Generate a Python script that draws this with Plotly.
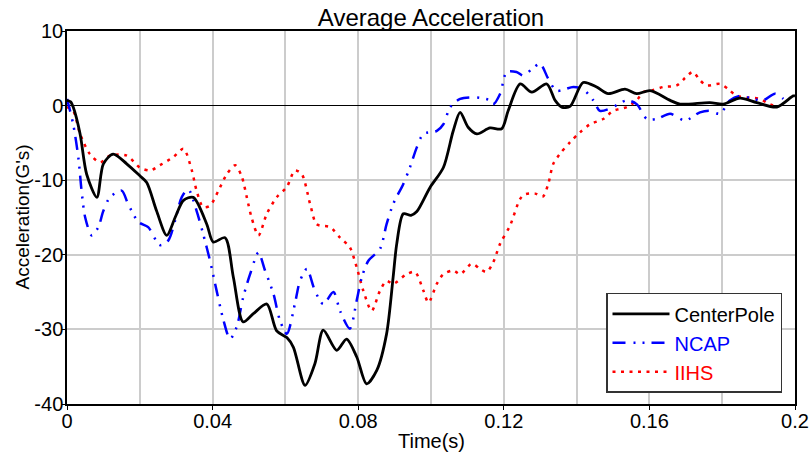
import plotly.graph_objects as go

# ---- data ----
cp_t = [0, 0.001, 0.0017, 0.0036, 0.0054, 0.0082, 0.01, 0.0127, 0.0164, 0.020, 0.0219, 0.0246,
        0.0274, 0.0297, 0.032, 0.0347, 0.0384, 0.0402, 0.0434, 0.0457, 0.0484, 0.0512, 0.0549,
        0.0576, 0.0604, 0.0622, 0.0654, 0.0681, 0.0704, 0.0741, 0.0768, 0.0796, 0.0823, 0.0851,
        0.0878, 0.0896, 0.0906, 0.0924, 0.0945, 0.0961, 0.0997, 0.1034, 0.1061, 0.108, 0.1102,
        0.1126, 0.1162, 0.1194, 0.1212, 0.1245, 0.1277, 0.1318, 0.1341, 0.1359, 0.1382, 0.1418,
        0.1455, 0.1487, 0.1533, 0.1565, 0.1602, 0.1657, 0.1684, 0.1766, 0.1803, 0.1849, 0.1895,
        0.195, 0.1995, 0.2]
cp_v = [0.7, 0.5, -0.2, -3.8, -9.2, -12.3, -7.8, -6.5, -7.8, -9.4, -10.3, -14.1,
        -17.4, -15.0, -12.7, -12.3, -15.9, -18.3, -17.7, -23.0, -29.0, -27.9, -26.6,
        -30.2, -31.1, -32.4, -37.5, -34.6, -30.1, -32.8, -31.3, -33.7, -37.3, -35.5,
        -30.6, -23.0, -18.5, -14.5, -14.7, -14.2, -11.0, -8.3, -3.4, -0.9, -2.9,
        -3.8, -3.0, -3.1, -0.7, 2.9, 1.8, 2.9, 0.7, -0.2, -0.1, 3.1,
        2.5, 1.6, 2.2, 1.6, 2.0, 0.7, 0.2, 0.4, 0.2, 1.0, 0.4,
        -0.2, 1.3, 1.3]

ncap_t = [0, 0.0017, 0.0031, 0.004, 0.005, 0.0068, 0.0086, 0.01, 0.0118, 0.015, 0.0168, 0.0196,
          0.0223, 0.0255, 0.0278, 0.0297, 0.0315, 0.0333, 0.0356, 0.0374, 0.0393, 0.0411, 0.043,
          0.0448, 0.0466, 0.0484, 0.0503, 0.0526, 0.0544, 0.0567, 0.0585, 0.0604, 0.0626, 0.064,
          0.0659, 0.0681, 0.0704, 0.0732, 0.075, 0.0777, 0.0796, 0.081, 0.0828, 0.086, 0.0878,
          0.0896, 0.0924, 0.0942, 0.0961, 0.0979, 0.1016, 0.1034, 0.1053, 0.108, 0.1125, 0.1162,
          0.1171, 0.119, 0.1208, 0.1235, 0.1254, 0.1277, 0.13, 0.1322, 0.1345, 0.1391, 0.1418,
          0.1446, 0.1464, 0.1492, 0.1538, 0.1565, 0.1593, 0.162, 0.1657, 0.1698, 0.1739, 0.1766,
          0.1794, 0.1821, 0.1849, 0.1885, 0.1913, 0.1945, 0.1968]
ncap_v = [0.9, -2.5, -6.9, -11.4, -15.0, -17.4, -16.3, -14.1, -12.3, -11.4, -13.2, -15.6,
          -16.3, -18.7, -18.1, -15.4, -12.3, -11.2, -14.1, -17.2, -20.8, -24.8, -28.8,
          -31.3, -29.7, -25.7, -22.6, -19.7, -22.1, -25.2, -28.8, -30.6, -26.6, -23.5,
          -21.9, -24.8, -26.6, -25.0, -27.5, -29.9, -26.1, -23.0, -20.8, -19.2, -15.9,
          -13.2, -10.5, -8.3, -5.6, -3.8, -3.4, -2.5, -0.2, 0.9, 1.1, 0.7,
          0.2, 1.6, 4.5, 4.5, 4.0, 4.9, 5.6, 3.6, 2.0, 2.5, 2.2,
          0.7, -0.7, -0.4, 0.7, 0.2, -1.8, -1.8, -1.1, -2.0, -0.9, -0.7,
          -1.1, 0.7, 1.3, 0.9, 0.7, 1.6, 0.9]

iihs_t = [0, 0.0017, 0.0036, 0.0063, 0.0091, 0.0118, 0.0164, 0.020, 0.0228, 0.0255, 0.0292, 0.032,
          0.0343, 0.0356, 0.0374, 0.0393, 0.0416, 0.0439, 0.0462, 0.048, 0.0494, 0.0507, 0.0526,
          0.0549, 0.0576, 0.0604, 0.0626, 0.0645, 0.0668, 0.0686, 0.0723, 0.075, 0.0777, 0.0796,
          0.0814, 0.0837, 0.086, 0.0878, 0.0896, 0.0933, 0.0956, 0.0979, 0.0993, 0.1016, 0.1034,
          0.1061, 0.108, 0.1112, 0.1135, 0.1153, 0.1171, 0.119, 0.1217, 0.1245, 0.1258, 0.1286,
          0.1307, 0.1322, 0.1336, 0.1354, 0.1382, 0.1409, 0.1437, 0.1473, 0.1501, 0.1538, 0.1565,
          0.1583, 0.1611, 0.1638, 0.1675, 0.1698, 0.1719, 0.1739, 0.1757, 0.1794, 0.1817, 0.184,
          0.1867, 0.1904, 0.1922, 0.1945]
iihs_v = [-0.2, -0.7, -3.8, -6.5, -7.6, -6.7, -6.7, -8.3, -8.7, -8.0, -6.9, -5.8,
          -8.7, -11.4, -13.6, -13.4, -11.4, -9.2, -8.0, -9.5, -12.3, -15.0, -17.4,
          -14.5, -12.3, -10.9, -8.7, -9.2, -13.2, -15.9, -16.3, -17.7, -19.0, -21.7,
          -24.8, -27.5, -24.8, -23.5, -23.9, -22.6, -22.3, -24.8, -26.4, -23.9, -22.6,
          -22.1, -22.6, -21.2, -21.9, -22.3, -21.0, -18.5, -16.1, -12.5, -11.9, -11.8,
          -12.2, -10.5, -7.8, -6.5, -4.9, -3.6, -2.5, -1.8, -0.7, -0.2, 0.7,
          1.8, 2.1, 2.5, 2.7, 3.7, 4.5, 3.4, 2.7, 2.9, 2.2, 1.3,
          1.1, 0.9, 0.4, -0.1]

x_tickvals = [0, 0.04, 0.08, 0.12, 0.16, 0.2]
x_ticktext = ["0", "0.04", "0.08", "0.12", "0.16", "0.2"]
y_tickvals = [10, 0, -10, -20, -30, -40]
y_ticktext = ["10", "0", "-10", "-20", "-30", "-40"]

FONT = "Arial, Liberation Sans, sans-serif"

fig = go.Figure()
fig.add_trace(go.Scatter(x=iihs_t, y=iihs_v, mode="lines",
                         name='<span style="color:#ff0000">IIHS</span>', legendrank=3,
                         line=dict(color="#ff0000", width=2.5, dash="3px,5.5px", shape="spline", smoothing=0.8)))
fig.add_trace(go.Scatter(x=ncap_t, y=ncap_v, mode="lines",
                         name='<span style="color:#0000ff">NCAP</span>', legendrank=2,
                         line=dict(color="#0000ff", width=2.5, dash="13px,8px,2px,7px,2px,7px",
                                   shape="spline", smoothing=0.8)))
fig.add_trace(go.Scatter(x=cp_t, y=cp_v, mode="lines",
                         name='<span style="color:#000000">CenterPole</span>', legendrank=1,
                         line=dict(color="#000000", width=2.8, shape="spline", smoothing=0.8)))

fig.update_layout(
    width=809, height=454,
    margin=dict(l=67, r=14, t=31, b=50, autoexpand=False),
    paper_bgcolor="white", plot_bgcolor="white",
    font=dict(family=FONT, size=20, color="black"),
    title=dict(text="Average Acceleration", x=0.5, xref="paper", xanchor="center",
               y=1 - 18 / 454, yanchor="middle", font=dict(family=FONT, size=24, color="black")),
    showlegend=True,
    legend=dict(x=(606 - 67) / 728, y=0.03, xanchor="left", yanchor="bottom",
                bgcolor="white", bordercolor="#333333", borderwidth=1.5,
                font=dict(family=FONT, size=20), itemwidth=57, traceorder="normal"),
    xaxis=dict(range=[0, 0.2], tickvals=x_tickvals, ticktext=x_ticktext, automargin=False,
               showgrid=True, gridcolor="#cccccc", gridwidth=1.5,
               minor=dict(dtick=0.02, showgrid=True, gridcolor="#cccccc", gridwidth=1.5),
               showline=True, linecolor="black", linewidth=1.5, mirror=True,
               ticks="outside", ticklen=4, tickcolor="black", ticklabelstandoff=-6,
               zeroline=False,
               tickfont=dict(family=FONT, size=20)),
    yaxis=dict(range=[-40, 10], tickvals=y_tickvals, ticktext=y_ticktext, automargin=False,
               showgrid=True, gridcolor="#cccccc", gridwidth=1.5,
               showline=True, linecolor="black", linewidth=1.5, mirror=True,
               ticks="outside", ticklen=3, tickcolor="black", ticklabelstandoff=-5,
               zeroline=True, zerolinecolor="black", zerolinewidth=1.2,
               tickfont=dict(family=FONT, size=20)),
    annotations=[
        dict(text="Time(s)", xref="paper", yref="paper", x=0.5, y=-(441 - 404) / 373,
             xanchor="center", yanchor="middle", showarrow=False,
             font=dict(family=FONT, size=20, color="black")),
        dict(text="Acceleration(G's)", xref="paper", yref="paper", x=-(67 - 22) / 728, y=0.5,
             xanchor="center", yanchor="middle", showarrow=False, textangle=-90,
             font=dict(family=FONT, size=19, color="black")),
    ],
)

# remove the default 8px page margin so the figure sits at the window's top-left corner
fig.write_html("out.html", config={"displayModeBar": False},
               post_script="document.body.style.margin='0';")
